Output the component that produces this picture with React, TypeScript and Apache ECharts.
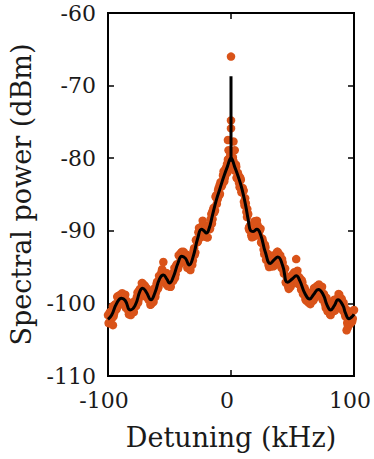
import React, { useEffect, useRef } from "react";
import * as echarts from "echarts";

// Fitted model curve (black), key points
const modelX = [-100, -97, -93, -89, -86, -82, -78, -74, -72, -69, -65, -62, -58, -55, -52, -50, -47, -43, -40, -37, -34, -31, -27, -24, -22, -20, -18, -15, -12, -9, -6, -3, 0, 3, 6, 9, 12, 14, 16, 18, 21, 24, 28, 32, 35, 38, 42, 46, 50, 53, 56, 60, 64, 67, 71, 75, 78, 81, 84, 87, 91, 93, 96, 98, 100];
const modelY = [-102.2, -101.6, -100.0, -99.3, -99.6, -100.9, -100.3, -98.3, -97.9, -98.4, -99.5, -98.6, -96.6, -96.1, -96.7, -97.2, -96.4, -94.4, -93.5, -93.8, -94.7, -93.7, -91.0, -89.8, -90.0, -90.3, -89.8, -87.8, -85.8, -84.2, -82.6, -81.2, -80.0, -81.2, -82.6, -84.3, -86.6, -88.5, -90.0, -90.1, -89.8, -90.5, -93.0, -94.5, -94.0, -93.6, -94.8, -97.1, -96.6, -96.2, -96.9, -98.6, -99.4, -98.8, -98.1, -98.8, -100.2, -100.9, -100.3, -99.5, -100.3, -101.3, -102.1, -101.9, -101.5];

// Narrow carrier spike of the model
const spikeX = [0, 0];
const spikeY = [-80.5, -68.7];

// Measured spectrum (orange), sampled every 1 kHz from -100 kHz
const measStart = -100;
const measStep = 1;
const measY = [
  -101.6, -102.7, -101.4, -102.1, -100.4, -101.4, -100.1, -100.8, -99.0, -99.9,
  -98.8, -100.0, -98.9, -99.9, -98.8, -100.5, -100.0, -101.5, -100.2, -101.3,
  -100.1, -101.2, -99.9, -100.3, -98.5, -99.4, -98.0, -98.8, -97.2, -98.4,
  -97.6, -99.1, -98.3, -99.5, -98.5, -100.1, -99.1, -99.8, -97.9, -98.5,
  -97.0, -97.8, -96.2, -96.8, -95.3, -96.7, -96.0, -97.3, -96.0, -97.4,
  -96.6, -97.7, -96.3, -96.9, -95.1, -96.0, -94.6, -95.2, -93.3, -94.1,
  -92.9, -94.2, -93.2, -94.3, -93.3, -95.0, -94.4, -95.4, -93.5, -94.1,
  -92.4, -93.0, -91.2, -91.5, -89.6, -90.6, -89.5, -90.6, -89.3, -90.6,
  -89.7, -90.9, -89.4, -89.7, -87.7, -88.4, -86.8, -87.2, -85.1, -85.7,
  -84.1, -84.9, -83.3, -83.6, -81.8, -82.7, -81.3, -82.0, -80.1, -80.8,
  -79.4,
  -81.1, -80.4, -81.7, -80.9, -82.7, -82.3, -84.0, -83.0, -84.7, -84.4,
  -86.5, -86.2, -88.1, -87.7, -89.9, -89.7, -90.9, -89.4, -90.4, -89.3,
  -90.5, -89.5, -90.7, -89.7, -91.7, -91.5, -93.2, -92.3, -93.9, -93.3,
  -95.0, -94.1, -94.9, -93.4, -94.6, -93.5, -94.5, -92.9, -94.1, -93.4,
  -95.1, -94.4, -95.9, -95.2, -97.2, -96.8, -98.0, -96.4, -97.3, -96.0,
  -97.1, -95.9, -96.7, -95.5, -97.2, -96.6, -98.1, -97.1, -98.6, -98.0,
  -99.6, -98.8, -99.9, -98.6, -99.8, -98.7, -99.6, -97.9, -98.8, -97.6,
  -98.8, -97.7, -98.8, -97.7, -99.4, -99.0, -100.6, -99.5, -101.0, -100.2,
  -101.6, -100.4, -101.1, -99.5, -100.6, -99.4, -100.3, -98.8, -100.1, -99.4,
  -101.0, -100.4, -101.8, -100.9, -102.6, -101.8, -102.8, -101.2, -102.1, -100.9,
];

// Measured spectrum (orange), interleaved samples every 1 kHz from -99.5 kHz
const meas2Start = -99.5;
const meas2Y = [
  -102.7, -101.2, -102.0, -100.9, -101.8, -100.2, -100.7, -99.1, -100.3, -98.9,
  -100.0, -98.6, -99.7, -99.0, -100.6, -99.7, -101.0, -100.0, -101.6, -100.2,
  -101.2, -99.7, -100.4, -99.1, -99.9, -98.2, -98.7, -97.2, -98.7, -97.5,
  -98.9, -97.9, -99.2, -98.7, -100.2, -99.1, -99.7, -98.0, -99.1, -97.3,
  -98.0, -96.2, -96.8, -95.7, -96.9, -95.8, -96.9, -95.8, -97.6, -96.5,
  -97.7, -96.2, -96.9, -95.7, -96.5, -94.8, -95.2, -93.4, -94.6, -93.0,
  -94.1, -92.9, -94.0, -93.5, -95.1, -94.2, -95.2, -93.6, -94.7, -92.8,
  -93.3, -91.3, -91.6, -90.2, -91.0, -89.5, -90.3, -89.1, -90.8, -89.7,
  -90.9, -89.3, -89.8, -88.4, -89.0, -87.1, -87.3, -85.3, -86.3, -84.4,
  -85.1, -83.3, -83.7, -82.4, -83.2, -81.5, -81.9, -80.2, -81.3, -79.6,
  -80.8, -79.9, -81.3, -81.0, -82.7, -82.0, -83.4, -82.7, -84.7, -84.1,
  -86.0, -85.5, -87.4, -87.6, -89.7, -89.3, -90.6, -89.3, -90.8, -89.4,
  -90.5, -89.2, -90.4, -89.9, -91.6, -91.1, -92.6, -91.9, -94.0, -93.1,
  -94.7, -93.7, -94.8, -93.8, -94.9, -93.5, -94.3, -92.9, -94.4, -93.3,
  -94.8, -93.9, -95.4, -95.2, -97.1, -96.5, -97.7, -96.4, -97.7, -96.2,
  -97.1, -95.7, -96.6, -95.8, -97.3, -96.4, -97.6, -96.8, -98.7, -97.8,
  -99.4, -98.4, -99.6, -98.9, -100.1, -98.7, -99.4, -97.9, -99.2, -97.7,
  -98.8, -97.4, -98.5, -97.9, -99.5, -98.7, -100.1, -99.2, -101.1, -100.1,
  -101.5, -100.2, -101.0, -100.0, -101.0, -99.5, -100.1, -98.7, -100.3, -99.3,
  -100.8, -99.9, -101.4, -101.0, -102.7, -101.7, -102.6, -101.2, -102.5, -101.0,
];

// Extra measured samples (quarter-kHz points near the peak, and outliers)
const extraX = [-15.25, -13.75, -12.25, -10.75, -9.25, -7.75, -6.25, -4.75, -3.25, -1.75, -0.25, 1.25, 2.75, 4.25, 5.75, 7.25, 8.75, 10.25, 11.75, 13.25, 14.75, 0, 0, 0, -2.5, 2, -2, 3, -55, 53, 94, 95, -96, 21, 19, -23];
const extraY = [-87.4, -87.5, -85.4, -85.5, -83.7, -83.9, -82.3, -82.4, -80.8, -81.1, -79.5, -80.2, -81.6, -81.2, -82.9, -82.7, -84.6, -84.5, -86.6, -87.0, -89.5, -66.0, -74.8, -75.9, -77.5, -77.7, -78.9, -78.9, -94.3, -93.9, -103.7, -103.3, -103.0, -88.6, -88.7, -88.6];

const xTicks = [-100, 0, 100];
const yTicks = [-110, -100, -90, -80, -70, -60];

const FONT = "DejaVu Serif";
const ORANGE = "#D95319";

export default function App() {
  const ref = useRef<HTMLDivElement>(null);
  useEffect(() => {
    if (!ref.current) return;
    const chart = echarts.init(ref.current, undefined, { renderer: "svg" });
    const meas: number[][] = measY.map((y, i) => [measStart + i * measStep, y]);
    const meas2: number[][] = meas2Y.map((y, i) => [meas2Start + i * measStep, y]);
    const extra: number[][] = extraX.map((x, i) => [x, extraY[i]]);
    const model: number[][] = modelX.map((x, i) => [x, modelY[i]]);
    const spike: number[][] = spikeX.map((x, i) => [x, spikeY[i]]);
    const xMin = xTicks[0];
    const xMax = xTicks[xTicks.length - 1];
    const yMin = yTicks[0];
    const yMax = yTicks[yTicks.length - 1];
    const tickStyle = { show: true, inside: true, length: 6, lineStyle: { color: "#000", width: 1.5 } };
    const lineStyle = { show: true, onZero: false, lineStyle: { color: "#000", width: 2 } };
    const scatterBase = {
      type: "scatter",
      symbol: "circle",
      symbolSize: 8.5,
      itemStyle: { color: ORANGE, opacity: 1 },
      z: 2,
    };
    chart.setOption({
      animation: false,
      backgroundColor: "#fff",
      textStyle: { fontFamily: FONT },
      grid: {
        left: 107,
        right: 15,
        top: 13,
        bottom: 83,
        show: true,
        borderColor: "#000",
        borderWidth: 2,
        backgroundColor: "#fff",
      },
      xAxis: [
        {
          type: "value",
          min: xMin,
          max: xMax,
          interval: 100,
          axisLine: lineStyle,
          axisTick: tickStyle,
          splitLine: { show: false },
          axisLabel: {
            color: "#1a1a1a",
            fontFamily: FONT,
            fontSize: 22,
            margin: 13,
            padding: [0, 8, 0, 0],
            formatter: (v: number) => (xTicks.includes(v) ? String(v) : ""),
          },
          name: "Detuning (kHz)",
          nameLocation: "middle",
          nameGap: 48,
          nameTextStyle: { color: "#1a1a1a", fontFamily: FONT, fontSize: 27 },
        },
        {
          type: "value",
          position: "top",
          min: xMin,
          max: xMax,
          interval: 100,
          axisLine: lineStyle,
          axisTick: tickStyle,
          axisLabel: { show: false },
          splitLine: { show: false },
        },
      ],
      yAxis: [
        {
          type: "value",
          min: yMin,
          max: yMax,
          interval: 10,
          axisLine: lineStyle,
          axisTick: tickStyle,
          splitLine: { show: false },
          axisLabel: {
            color: "#1a1a1a",
            fontFamily: FONT,
            fontSize: 22,
            margin: 12,
          },
          name: "Spectral power (dBm)",
          nameLocation: "middle",
          nameRotate: 90,
          nameGap: 73,
          nameTextStyle: { color: "#1a1a1a", fontFamily: FONT, fontSize: 27 },
        },
        {
          type: "value",
          position: "right",
          min: yMin,
          max: yMax,
          interval: 10,
          axisLine: lineStyle,
          axisTick: tickStyle,
          axisLabel: { show: false },
          splitLine: { show: false },
        },
      ],
      series: [
        { ...scatterBase, name: "measured", data: meas },
        { ...scatterBase, name: "measured interleaved", data: meas2 },
        { ...scatterBase, name: "measured extra", data: extra },
        {
          name: "model",
          type: "line",
          data: model,
          smooth: 0.5,
          showSymbol: false,
          lineStyle: { color: "#000", width: 3 },
          z: 3,
        },
        {
          name: "spike",
          type: "line",
          data: spike,
          showSymbol: false,
          lineStyle: { color: "#000", width: 3 },
          z: 3,
        },
      ],
    });
    return () => chart.dispose();
  }, []);
  return (
    <div
      ref={ref}
      style={{ position: "fixed", left: 0, top: 0, width: 374, height: 459 }}
    />
  );
}
